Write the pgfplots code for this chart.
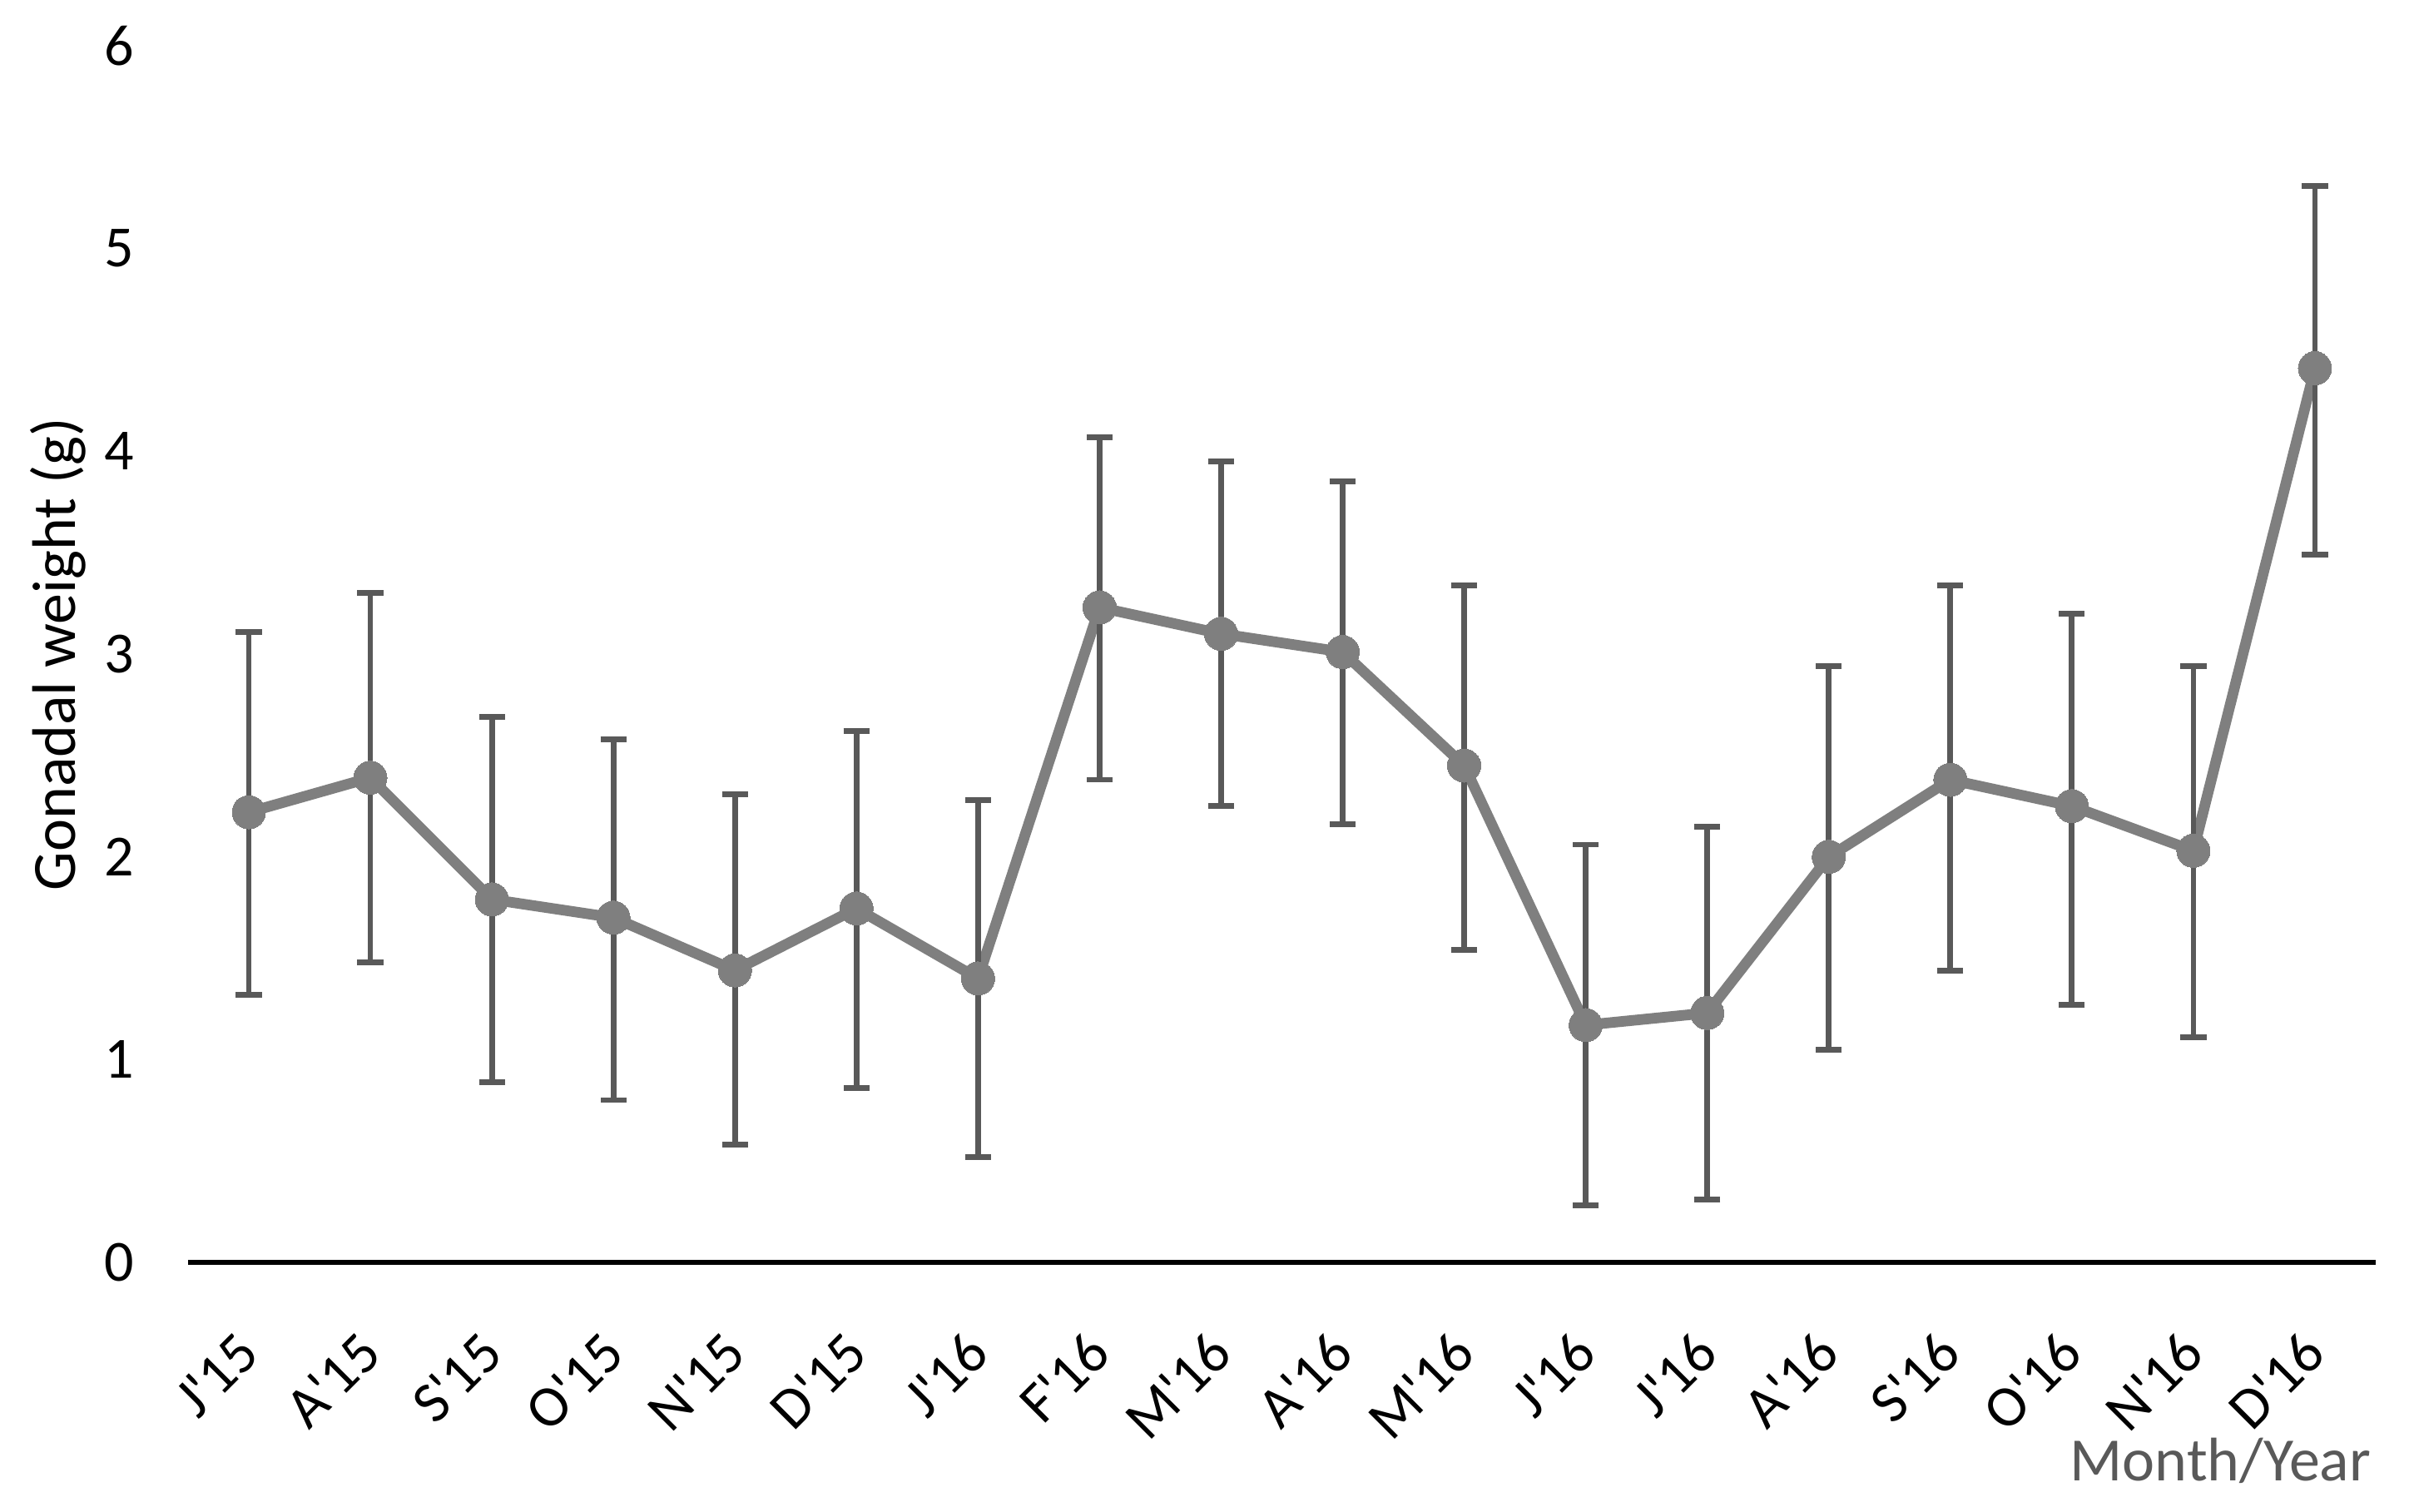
\documentclass[border=0pt]{standalone}
\usepackage{fontspec}
\setmainfont{Carlito}[Ligatures=TeXOff]
\usepackage{pgfplots}
\usepackage{pgfplotstable}
\pgfplotsset{compat=1.18}
\definecolor{linegray}{HTML}{7F7F7F}
\definecolor{errgray}{HTML}{595959}
\pgfplotstableread{
x y ep em
0 2.22 0.89 0.90
1 2.39 0.91 0.91
2 1.79 0.90 0.90
3 1.70 0.88 0.90
4 1.44 0.87 0.86
5 1.745 0.875 0.885
6 1.40 0.88 0.88
7 3.23 0.84 0.85
8 3.10 0.85 0.85
9 3.01 0.84 0.85
10 2.45 0.89 0.91
11 1.17 0.89 0.89
12 1.23 0.92 0.92
13 2.00 0.94 0.95
14 2.38 0.96 0.94
15 2.25 0.95 0.98
16 2.03 0.91 0.92
17 4.41 0.90 0.92
}\gonad
\begin{document}
\begin{tikzpicture}
\useasboundingbox (-56.5pt,-75pt) rectangle (667.25pt,379.25pt);
\begin{axis}[
  at={(0,0)}, anchor=south west,
  scale only axis, width=657.25pt, height=365.5pt,
  xmin=-0.5, xmax=17.5, ymin=0, ymax=6,
  separate axis lines,
  axis x line*=bottom, axis y line*=left,
  x axis line style={black, line width=1.5pt},
  y axis line style={draw=none},
  xtick={0,...,17},
  xticklabels={J'15,A'15,S'15,O'15,N'15,D'15,J'16,F'16,M'16,A'16,M'16,J'16,J'16,A'16,S'16,O'16,N'16,D'16},
  ytick={0,...,6},
  major tick length=0pt,
  /pgf/number format/assume math mode=true,
  xticklabel style={rotate=45, anchor=east, inner sep=0pt, font=\fontsize{17.5}{20}\selectfont},
  xticklabel shift=24pt,
  yticklabel style={anchor=east, inner sep=0pt, font=\fontsize{17.5}{20}\selectfont},
  yticklabel shift=16pt,
  ylabel={Gonadal weight (g)},
  every axis y label/.style={at={(axis description cs:-0.0517,0.5)}, rotate=90, anchor=base, inner sep=0pt, font=\fontsize{18.5}{22}\selectfont},
  xlabel={Month/Year},
  every axis x label/.style={at={(axis description cs:1,0)}, anchor=base east, inner sep=0pt, xshift=-1.25pt, yshift=-65.75pt, text=errgray, font=\fontsize{18.5}{22}\selectfont},
  clip=false,
]
\addplot[linegray, line width=3.2pt, line join=round, mark=*, mark size=5pt, mark options={fill=linegray, draw=linegray, line width=0pt}] table[x=x, y=y] {\gonad};
\addplot[draw=none, mark=none, forget plot,
  error bars/.cd, y dir=both, y explicit,
  error bar style={draw=errgray, line width=1.7pt},
  error mark options={rotate=90, mark size=3.9pt, line width=1.7pt, draw=errgray}]
  table[x=x, y=y, y error plus=ep, y error minus=em] {\gonad};
\end{axis}
\end{tikzpicture}
\end{document}
